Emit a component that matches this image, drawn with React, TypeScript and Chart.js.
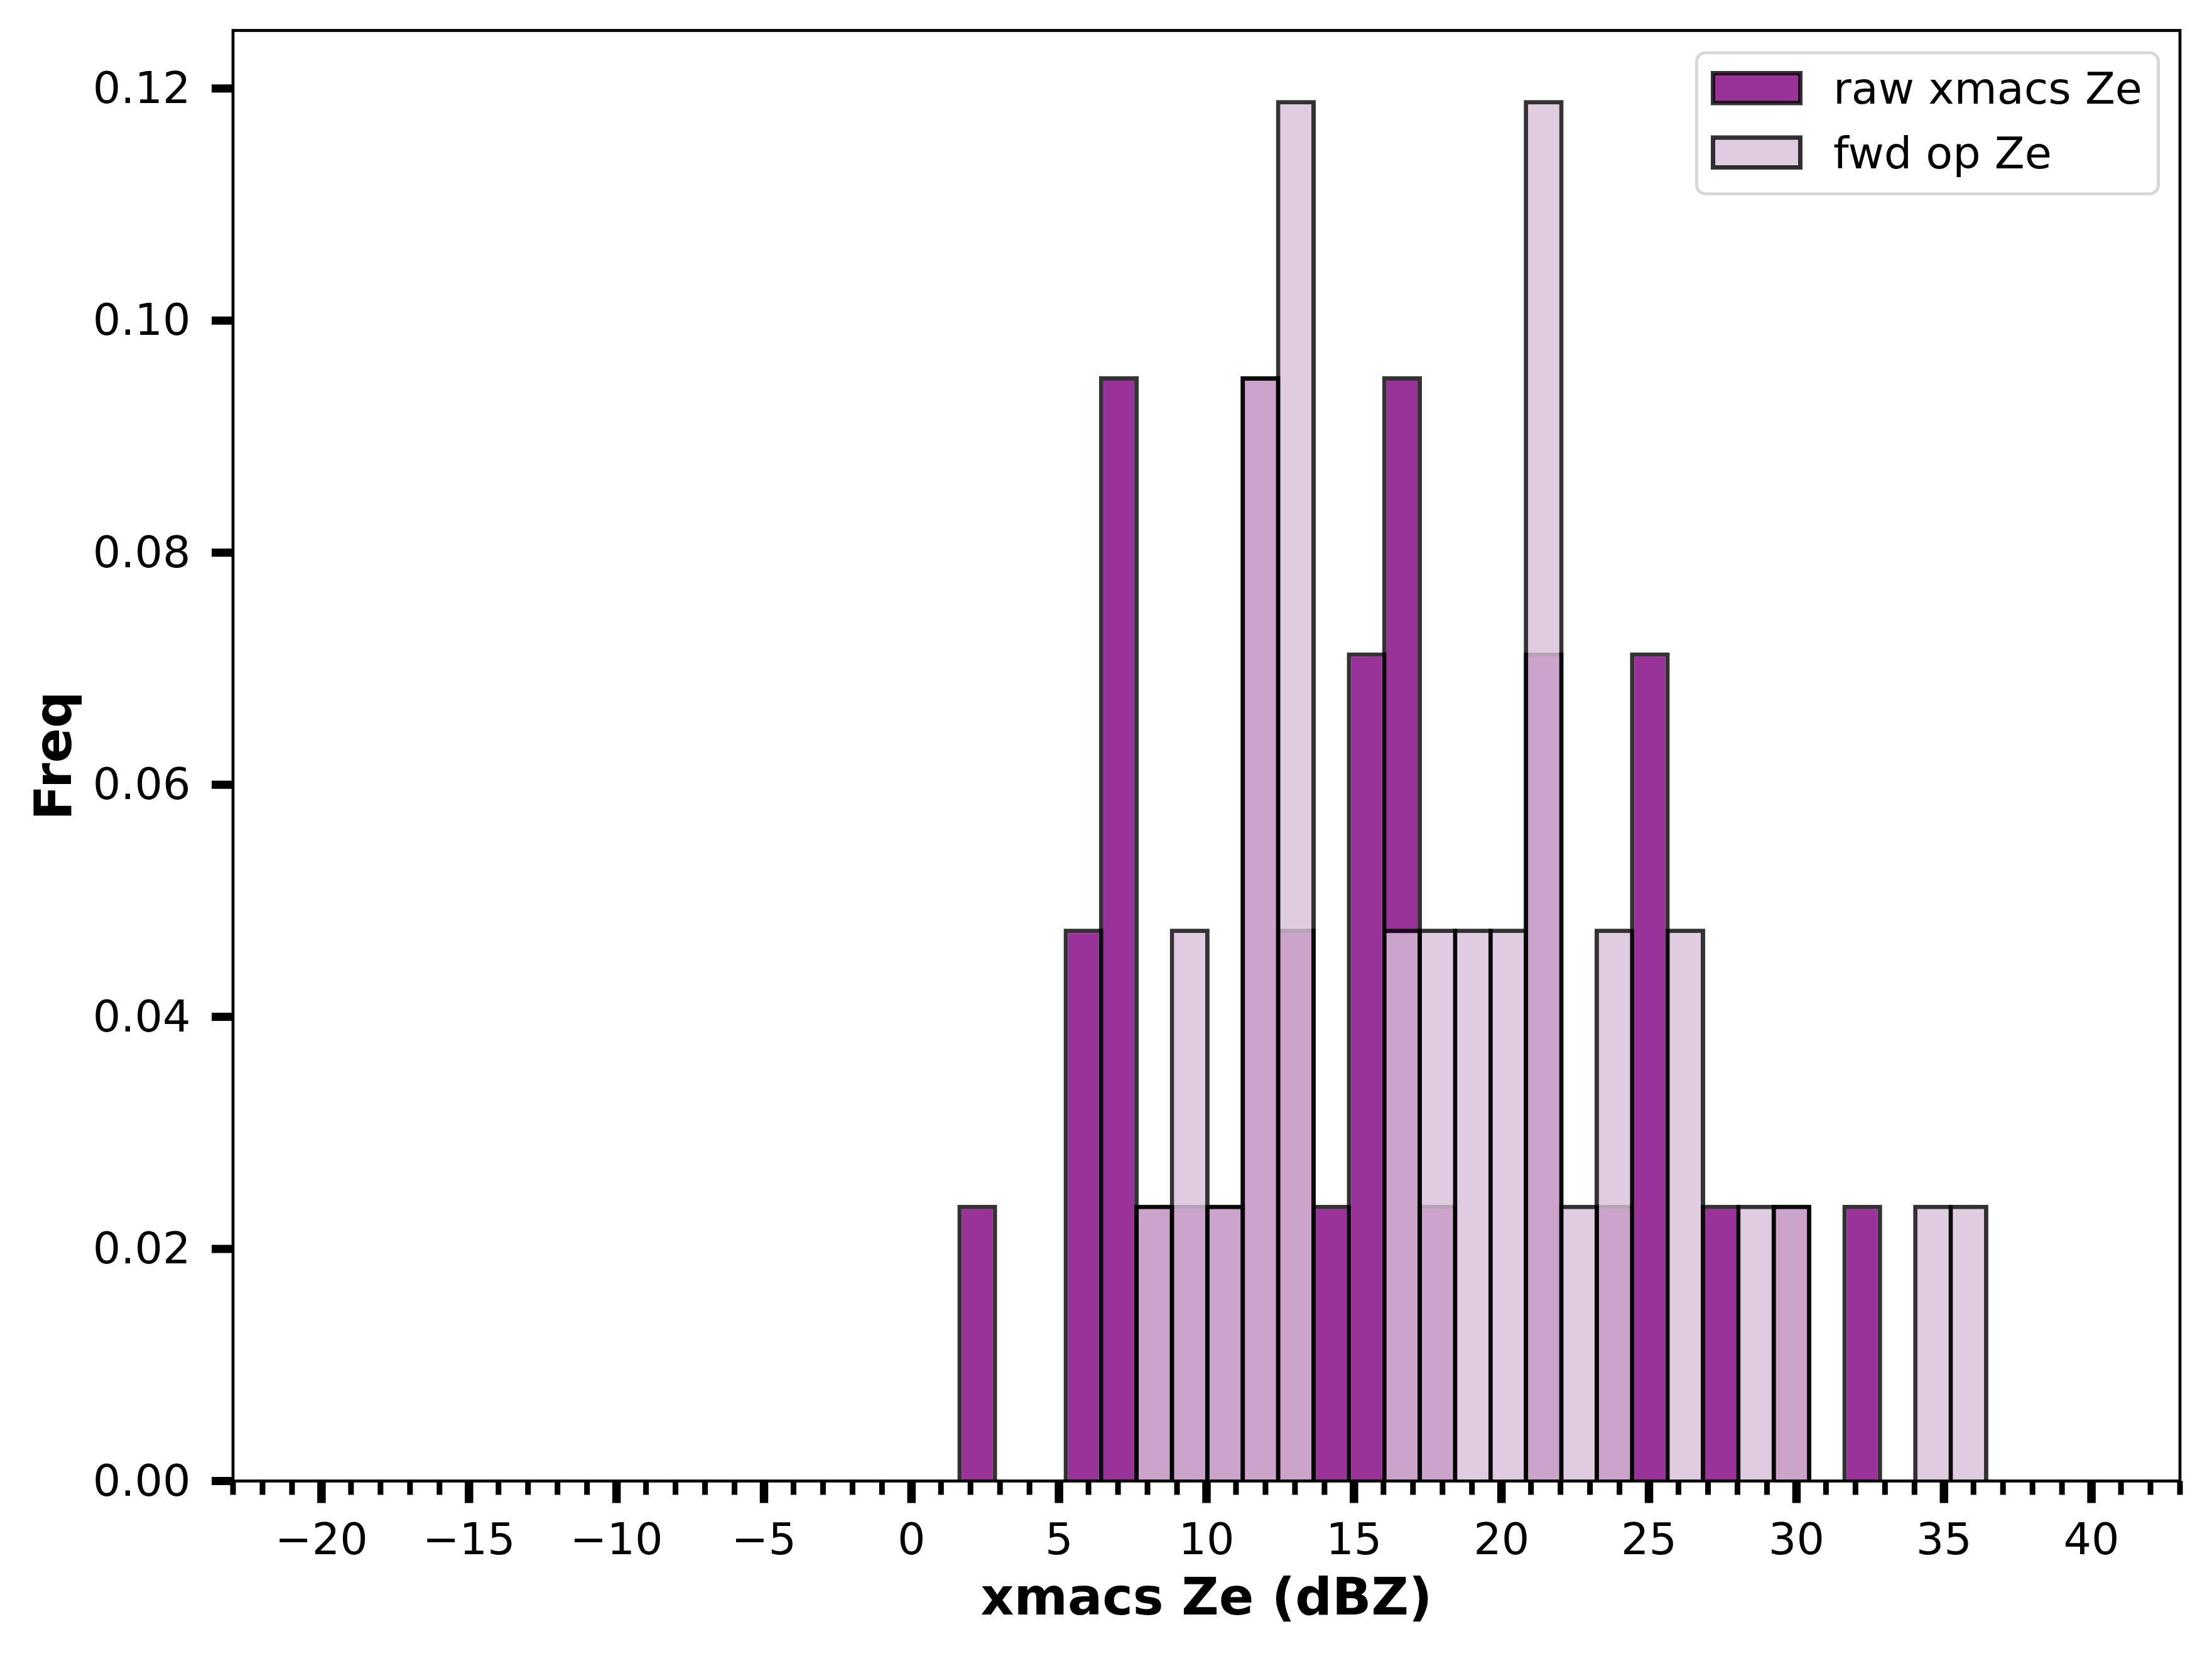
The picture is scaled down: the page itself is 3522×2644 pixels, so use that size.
import React, { useEffect, useRef } from 'react';
import { Chart, registerables } from 'chart.js';

Chart.register(...registerables);

// ---- data ----
// centres of the 1.2 dBZ wide histogram bins
const binCenters = [
  2.23, 3.43, 4.63, 5.83, 7.03, 8.23, 9.43, 10.63, 11.83, 13.03,
  14.23, 15.43, 16.63, 17.83, 19.03, 20.23, 21.43, 22.63, 23.83, 25.03,
  26.23, 27.43, 28.63, 29.83, 31.03, 32.23, 33.43, 34.63, 35.83,
];
// density values per bin
const rawFreq = [
  0.0238, 0, 0, 0.0476, 0.0952, 0.0238, 0.0238, 0.0238, 0.0952, 0.0476,
  0.0238, 0.0714, 0.0952, 0.0238, 0, 0, 0.0714, 0, 0.0238, 0.0714,
  0, 0.0238, 0, 0.0238, 0, 0.0238, 0, 0, 0,
];
const fwdFreq = [
  0, 0, 0, 0, 0, 0.0238, 0.0476, 0.0238, 0.0952, 0.119,
  0, 0, 0.0476, 0.0476, 0.0476, 0.0476, 0.119, 0.0238, 0.0476, 0,
  0.0476, 0, 0.0238, 0.0238, 0, 0, 0, 0.0238, 0.0238,
];
const seriesLabels = ['raw xmacs Ze', 'fwd op Ze'];
const xTitle = 'xmacs Ze (dBZ)';
const yTitle = 'Freq';
const xRange = [-23, 43];
const yRange = [0, 0.125];
const xMajorStep = 5;
const yTickStep = 0.02;

const FONT = "'DejaVu Sans', 'Liberation Sans', sans-serif";
const EDGE = 'rgba(0,0,0,0.8)';
const EDGE_W = 7;

const fmtX = (v: number) => (v < 0 ? '\u2212' + Math.abs(v) : String(v));

const axisDecor = {
  id: 'axisDecor',
  afterDatasetsDraw(chart: any) {
    const { ctx, chartArea: ca, scales } = chart;
    const x = scales.x;
    const y = scales.y;
    ctx.save();
    ctx.fillStyle = '#000';
    for (let v = xRange[0]; v <= xRange[1]; v++) {
      const px = x.getPixelForValue(v);
      const major = v % xMajorStep === 0;
      const w = major ? 13.5 : 9;
      const len = major ? 35 : 22;
      ctx.fillRect(px - w / 2, ca.bottom, w, len);
    }
    for (const t of y.ticks) {
      const py = y.getPixelForValue(t.value);
      ctx.fillRect(ca.left - 34, py - 6.5, 34, 13);
    }
    ctx.strokeStyle = '#000';
    ctx.lineWidth = 4.7;
    ctx.strokeRect(ca.left, ca.top, ca.right - ca.left, ca.bottom - ca.top);
    ctx.restore();
  },
};

function roundRectPath(ctx: CanvasRenderingContext2D, x: number, y: number, w: number, h: number, r: number) {
  ctx.beginPath();
  ctx.moveTo(x + r, y);
  ctx.lineTo(x + w - r, y);
  ctx.arcTo(x + w, y, x + w, y + r, r);
  ctx.lineTo(x + w, y + h - r);
  ctx.arcTo(x + w, y + h, x + w - r, y + h, r);
  ctx.lineTo(x + r, y + h);
  ctx.arcTo(x, y + h, x, y + h - r, r);
  ctx.lineTo(x, y + r);
  ctx.arcTo(x, y, x + r, y, r);
  ctx.closePath();
}

const legendBox = {
  id: 'legendBox',
  afterDraw(chart: any) {
    const { ctx, chartArea: ca } = chart;
    ctx.save();
    const boxRight = ca.right - 34.5;
    const boxW = 735;
    const boxX = boxRight - boxW;
    const boxY = ca.top + 35.5;
    const boxH = 224.5;
    roundRectPath(ctx, boxX, boxY, boxW, boxH, 14);
    ctx.fillStyle = 'rgba(255,255,255,0.8)';
    ctx.fill();
    ctx.lineWidth = 4.7;
    ctx.strokeStyle = 'rgba(204,204,204,0.8)';
    ctx.stroke();
    chart.data.datasets.forEach((ds: any, i: number) => {
      const py = boxY + 32.5 + i * 102.5;
      const px = boxX + 26;
      ctx.fillStyle = ds.backgroundColor;
      ctx.fillRect(px, py, 139, 47.5);
      ctx.lineWidth = EDGE_W;
      ctx.strokeStyle = ds.borderColor;
      ctx.strokeRect(px, py, 139, 47.5);
      ctx.fillStyle = '#000';
      ctx.font = `70px ${FONT}`;
      ctx.textBaseline = 'alphabetic';
      ctx.textAlign = 'left';
      ctx.fillText(ds.label, boxX + 217.5, boxY + 81 + i * 102.5);
    });
    ctx.restore();
  },
};

export default function App() {
  const ref = useRef<HTMLCanvasElement>(null);

  useEffect(() => {
    if (!ref.current) return;
    const makeDs = (label: string, values: number[], color: string, order: number) => ({
      label,
      data: binCenters.map((c, i) => ({ x: c, y: values[i] })),
      backgroundColor: color,
      borderColor: EDGE,
      borderWidth: (c: any) => (c.raw && c.raw.y > 0 ? EDGE_W : 0),
      borderSkipped: 'start',
      categoryPercentage: 1.124,
      barPercentage: 1,
      grouped: false,
      order,
    });

    const chart = new Chart(ref.current, {
      type: 'bar',
      data: {
        datasets: [
          makeDs(seriesLabels[0], rawFreq, 'rgba(128,0,128,0.8)', 1),
          makeDs(seriesLabels[1], fwdFreq, 'rgba(216,191,216,0.8)', 0),
        ] as any,
      },
      options: {
        responsive: false,
        animation: false,
        devicePixelRatio: 1,
        layout: { padding: { left: 0, top: 48.5, right: 51, bottom: 0 } },
        plugins: {
          legend: { display: false },
          tooltip: { enabled: false },
        },
        scales: {
          x: {
            type: 'linear',
            min: xRange[0],
            max: xRange[1],
            offset: false,
            grid: { display: false },
            border: { display: false },
            ticks: {
              stepSize: xMajorStep,
              includeBounds: false,
              autoSkip: false,
              maxRotation: 0,
              minRotation: 0,
              padding: 48.8,
              color: '#000',
              font: { family: FONT, size: 70 },
              callback: (v: any) => fmtX(Number(v)),
            },
            title: {
              display: true,
              text: xTitle,
              color: '#000',
              font: { family: FONT, size: 82, weight: 'bold' },
              padding: { top: 0, bottom: 45.8 },
            },
            afterFit: (s: any) => {
              s.height = 286.5;
              s.paddingLeft = 0;
              s.paddingRight = 0;
            },
          },
          y: {
            type: 'linear',
            min: yRange[0],
            max: yRange[1],
            grid: { display: false },
            border: { display: false },
            ticks: {
              stepSize: yTickStep,
              includeBounds: false,
              autoSkip: false,
              padding: 59.5,
              labelOffset: 5,
              color: '#000',
              font: { family: FONT, size: 70 },
              callback: (v: any) => Number(v).toFixed(2),
            },
            title: {
              display: true,
              text: yTitle,
              color: '#000',
              font: { family: FONT, size: 82, weight: 'bold' },
              padding: { top: 43, bottom: 0 },
            },
            afterFit: (s: any) => {
              s.width = 371;
              s.paddingTop = 0;
              s.paddingBottom = 0;
            },
          },
        },
      } as any,
      plugins: [axisDecor, legendBox],
    });
    return () => chart.destroy();
  }, []);

  return (
    <div style={{ position: 'fixed', left: 0, top: 0, width: 3522, height: 2644, background: '#fff' }}>
      <canvas ref={ref} width={3522} height={2644} style={{ display: 'block', width: 3522, height: 2644 }} />
    </div>
  );
}
